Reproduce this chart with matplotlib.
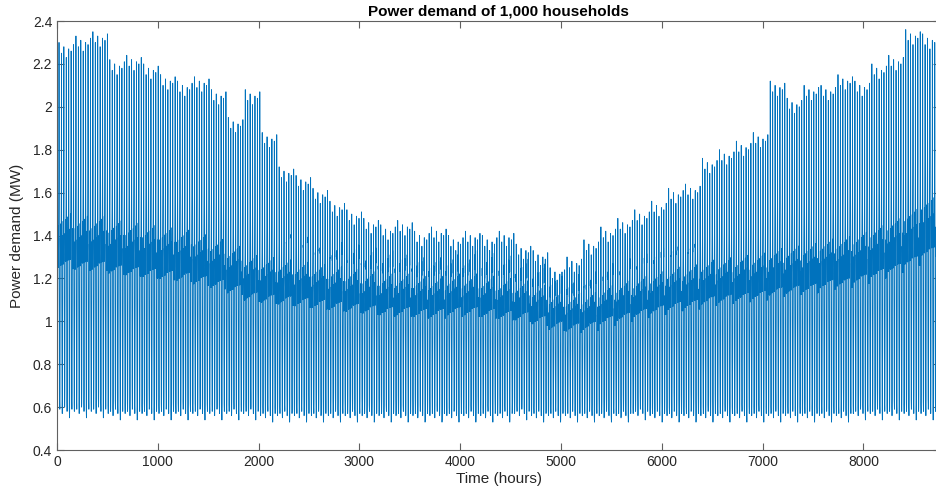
import matplotlib as mpl
mpl.use('Agg')
import matplotlib.pyplot as plt
import numpy as np

# weekly levels (MW), one value per 168 h block, 53 blocks
week_peak = [2.30, 2.33, 2.35, 2.22, 2.24, 2.20, 2.15, 2.12, 2.14, 2.08,
             1.95, 2.08, 1.88, 1.72, 1.68, 1.62, 1.56, 1.52, 1.48, 1.45,
             1.47, 1.42, 1.44, 1.40, 1.42, 1.40, 1.42, 1.36, 1.33, 1.25,
             1.30, 1.38, 1.44, 1.48, 1.52, 1.56, 1.62, 1.64, 1.76, 1.80,
             1.84, 1.88, 2.12, 2.04, 2.10, 2.10, 2.15, 2.12, 2.20, 2.24,
             2.36, 2.34, 2.32]
week_band = [1.40, 1.39, 1.39, 1.37, 1.36, 1.35, 1.34, 1.33, 1.31, 1.29,
             1.26, 1.22, 1.21, 1.20, 1.19, 1.18, 1.17, 1.16, 1.15, 1.14,
             1.14, 1.13, 1.13, 1.14, 1.14, 1.13, 1.12, 1.11, 1.09, 1.06,
             1.05, 1.06, 1.09, 1.11, 1.13, 1.15, 1.17, 1.18, 1.20, 1.21,
             1.22, 1.23, 1.25, 1.26, 1.27, 1.29, 1.30, 1.32, 1.35, 1.38,
             1.42, 1.47, 1.50]
week_trough = [0.58, 0.58, 0.58, 0.57, 0.57, 0.57, 0.57, 0.57, 0.57, 0.57,
               0.57, 0.57, 0.56, 0.56, 0.56, 0.56, 0.56, 0.56, 0.56, 0.56,
               0.56, 0.56, 0.56, 0.56, 0.56, 0.56, 0.56, 0.57, 0.56, 0.56,
               0.56, 0.56, 0.56, 0.56, 0.57, 0.56, 0.56, 0.56, 0.56, 0.56,
               0.56, 0.56, 0.56, 0.56, 0.56, 0.56, 0.56, 0.57, 0.57, 0.57,
               0.57, 0.57, 0.57]

# day of week offsets (MW)
day_peak_off = [0.0, -0.05, -0.02, -0.07, -0.03, -0.04, -0.01]
day_band_off = [-0.02, -0.01, 0.0, 0.01, 0.02, 0.03, -0.03]
day_trough_off = [0.0, 0.01, -0.01, 0.02, 0.0, -0.03, 0.01]

# 24 h profile: share of trough->band, and share of band->peak
hour_base = [0.15, 0.05, 0.0, 0.0, 0.02, 0.10, 0.45, 0.80, 1.0, 0.88,
             0.84, 0.95, 1.08, 0.90, 0.84, 0.96, 1.12, 1.25, 1.0, 1.0,
             1.0, 1.05, 0.75, 0.40]
hour_peak = [0, 0, 0, 0, 0, 0, 0, 0, 0, 0, 0, 0,
             0, 0, 0, 0, 0, 0, 0.35, 1.0, 0.45, 0, 0, 0]

power = []
for d in range(365):
    w = d // 7
    k = d % 7
    lo = week_trough[w] + day_trough_off[k]
    mid = week_band[w] + day_band_off[k]
    hi = week_peak[w] + day_peak_off[k]
    for h in range(24):
        power.append(lo + (mid - lo) * hour_base[h] + (hi - mid) * hour_peak[h])
power = np.array(power)
hours = np.arange(1, len(power) + 1)

plt.rcParams['font.family'] = ['Liberation Sans', 'DejaVu Sans']

fig = plt.figure(figsize=(9.36, 5), dpi=100)
ax = fig.add_axes([57 / 936, 0.1, 883 / 936, 0.858])
ax.plot(hours, power, color='#0072BD', lw=0.6)

ax.set_xlim(0, 8760)
ax.set_ylim(0.4, 2.4)
ax.set_xticks(np.arange(0, 9000, 1000))
yt = np.round(np.arange(0.4, 2.41, 0.2), 1)
ax.set_yticks(yt)
ax.set_yticklabels(['%g' % v for v in yt])

for s in ax.spines.values():
    s.set_color('#606060')
    s.set_linewidth(0.8)
ax.tick_params(direction='in', length=5, width=0.8, color='#606060',
               labelcolor='#262626', labelsize=10, top=True, right=True)

ax.set_xlabel('Time (hours)', fontsize=11, color='#262626', labelpad=2)
ax.set_ylabel('Power demand (MW)', fontsize=11, color='#262626', labelpad=6)
ax.set_title('Power demand of 1,000 households', fontsize=11,
             fontweight='bold', pad=4)

plt.savefig('out.png', dpi=100)
